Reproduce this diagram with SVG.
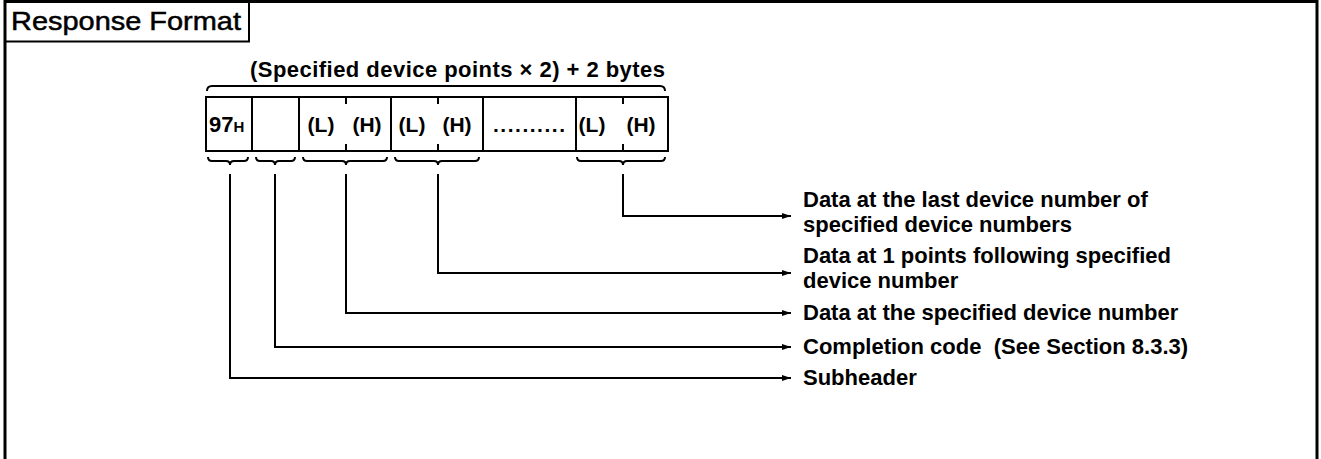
<svg xmlns="http://www.w3.org/2000/svg" width="1321" height="459" viewBox="0 0 1321 459">
<style>
.ln{fill:none;stroke:#000;stroke-width:2}
.fr{fill:none;stroke:#000;stroke-width:3}
.t{font-family:"Liberation Sans",Arial,sans-serif;font-weight:bold;font-size:22px;fill:#000}
.c{font-family:"Liberation Sans",Arial,sans-serif;font-weight:bold;font-size:21px;fill:#000;text-anchor:middle}
.h{font-family:"Liberation Sans",Arial,sans-serif;font-size:26px;fill:#000;stroke:#000;stroke-width:0.5}
</style>
<defs>
<marker id="ah" markerUnits="userSpaceOnUse" markerWidth="10" markerHeight="8" refX="9" refY="4" orient="auto">
<path d="M0,1 L9,4 L0,7 z" fill="#000"/>
</marker>
</defs>
<rect width="1321" height="459" fill="#fff"/>
<g id="frame">
<path class="fr" d="M5,459 L5,1.5 L1317,1.5 L1317,459"/>
<rect class="ln" x="5" y="1.5" width="244" height="40"/>
<text class="h" x="11" y="30" textLength="230" lengthAdjust="spacingAndGlyphs">Response Format</text>
</g>
<g id="size-label">
<path class="ln" d="M207,91 Q207,86 212,86 L660,86 Q665,86 665,91"/>
<text class="t" x="250" y="77" textLength="415" lengthAdjust="spacing">(Specified device points × 2) + 2 bytes</text>
</g>
<g id="frame-cells">
<rect class="ln" x="206" y="97" width="462" height="54"/>
<path class="ln" d="M252,97 V151 M299,97 V151 M391,97 V151 M483,97 V151 M576,97 V151"/>
<path class="ln" d="M346,97 V104 M346,144 V151 M438,97 V104 M438,144 V151 M623,97 V104 M623,144 V151"/>
<text class="t" x="209" y="132" font-size="21">97<tspan font-size="15">H</tspan></text>
<text class="c" x="321" y="132">(L)</text>
<text class="c" x="367" y="132">(H)</text>
<text class="c" x="412" y="132">(L)</text>
<text class="c" x="457" y="132">(H)</text>
<text class="c" x="529" y="132" textLength="72" lengthAdjust="spacing">..........</text>
<text class="c" x="592" y="132">(L)</text>
<text class="c" x="641" y="132">(H)</text>
</g>
<g id="braces">
<path class="ln" d="M208,157 Q208,161 212,161 L226,161 Q230,161 230,165 Q230,161 234,161 L244,161 Q248,161 248,157"/>
<path class="ln" d="M256,157 Q256,161 260,161 L271,161 Q275,161 275,165 Q275,161 279,161 L291,161 Q295,161 295,157"/>
<path class="ln" d="M303,157 Q303,161 307,161 L342,161 Q346,161 346,165 Q346,161 350,161 L383,161 Q387,161 387,157"/>
<path class="ln" d="M395,157 Q395,161 399,161 L434,161 Q438,161 438,165 Q438,161 442,161 L475,161 Q479,161 479,157"/>
<path class="ln" d="M577,157 Q577,161 581,161 L619,161 Q623,161 623,165 Q623,161 627,161 L661,161 Q665,161 665,157"/>
</g>
<g id="connectors">
<path class="ln" d="M623,174 V216 H791" marker-end="url(#ah)"/>
<path class="ln" d="M438,174 V273 H791" marker-end="url(#ah)"/>
<path class="ln" d="M346,174 V313 H791" marker-end="url(#ah)"/>
<path class="ln" d="M275,174 V347 H791" marker-end="url(#ah)"/>
<path class="ln" d="M230,174 V378 H791" marker-end="url(#ah)"/>
</g>
<g id="label-last">
<text class="t" x="803" y="207">Data at the last device number of</text>
<text class="t" x="803" y="232">specified device numbers</text>
</g>
<g id="label-next">
<text class="t" x="803" y="263">Data at 1 points following specified</text>
<text class="t" x="803" y="288">device number</text>
</g>
<g id="label-specified">
<text class="t" x="803" y="320">Data at the specified device number</text>
</g>
<g id="label-completion">
<text class="t" x="803" y="354" xml:space="preserve">Completion code  (See Section 8.3.3)</text>
</g>
<g id="label-subheader">
<text class="t" x="803" y="385">Subheader</text>
</g>
</svg>
